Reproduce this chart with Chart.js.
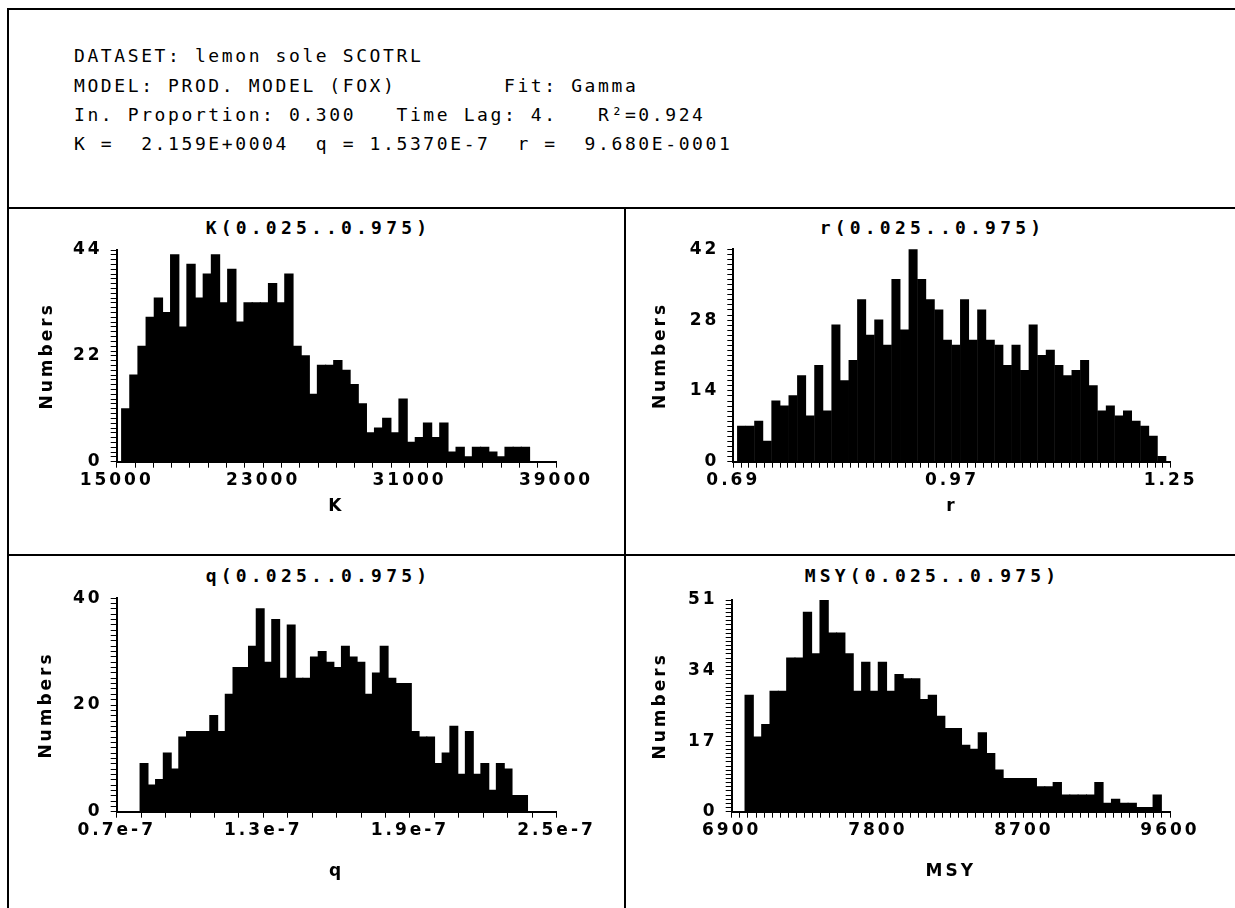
<!DOCTYPE html>
<html>
<head>
<meta charset="utf-8">
<script src="https://cdn.jsdelivr.net/npm/chart.js@4.4.1/dist/chart.umd.min.js"></script>
<style>
  body { margin: 0; background: #fff; }
  #page { position: relative; width: 1235px; height: 908px; overflow: hidden; background: #fff; }
  .rule { position: absolute; background: #000; }
  .hdr { position: absolute; left: 74px; font: 18px "DejaVu Sans Mono", monospace; letter-spacing: 2.6px; white-space: pre; line-height: 20px; color: #000; }
  .ptitle { position: absolute; font: bold 18px "DejaVu Sans Mono", monospace; letter-spacing: 4.2px; text-align: center; line-height: 20px; color: #000; }
  canvas { position: absolute; }
</style>
</head>
<body>
<div id="page">
  <div class="rule" style="left:7px;top:8px;width:1228px;height:2px"></div>
  <div class="rule" style="left:7px;top:8px;width:2px;height:900px"></div>
  <div class="rule" style="left:7px;top:207px;width:1228px;height:2px"></div>
  <div class="rule" style="left:7px;top:554px;width:1228px;height:2px"></div>
  <div class="rule" style="left:624px;top:207px;width:2px;height:701px"></div>

  <div class="hdr" style="top:46px">DATASET: lemon sole SCOTRL</div>
  <div class="hdr" style="top:76px">MODEL: PROD. MODEL (FOX)        Fit: Gamma</div>
  <div class="hdr" style="top:105px">In. Proportion: 0.300   Time Lag: 4.   R²=0.924</div>
  <div class="hdr" style="top:134px">K =  2.159E+0004  q = 1.5370E-7  r =  9.680E-0001</div>

  <div class="ptitle" style="left:11px;top:218px;width:615px">K(0.025..0.975)</div>
  <div class="ptitle" style="left:628px;top:218px;width:609px">r(0.025..0.975)</div>
  <div class="ptitle" style="left:11px;top:566px;width:615px">q(0.025..0.975)</div>
  <div class="ptitle" style="left:628px;top:566px;width:609px">MSY(0.025..0.975)</div>

  <canvas id="cK" width="616" height="345" style="left:8px;top:209px"></canvas>
  <canvas id="cR" width="609" height="345" style="left:626px;top:209px"></canvas>
  <canvas id="cQ" width="616" height="352" style="left:8px;top:556px"></canvas>
  <canvas id="cM" width="609" height="352" style="left:626px;top:556px"></canvas>
</div>
<script>
// K histogram
const kBinStart = 15273, kBinWidth = 445.6;
const kCounts = [11,18,24,30,34,31,43,28,41,34, 39,43,33,40,29,33,33,33,37,33,
                 39,24,22,14,20,20,21,19,16,12, 6,7,9,6,13,4,5,8,5,8,
                 2,3,1,3,3,2,1,3,3,3];
const kTicks = [15000, 23000, 31000, 39000];
const kTickLabels = ['15000', '23000', '31000', '39000'];
const kYTicks = [0, 22, 44];

// r histogram
const rBinStart = 0.6951, rBinWidth = 0.01098;
const rCounts = [7,7,8,4,12,11,13,17,9,19, 10,27,16,20,32,25,28,23,36,26,
                 42,36,32,30,24,23,32,24,30,24, 23,19,23,18,27,21,22,19,17,18,
                 20,15,10,11,9,10,8,7,5,1];
const rTicks = [0.69, 0.97, 1.25];
const rTickLabels = ['0.69', '0.97', '1.25'];
const rYTicks = [0, 14, 28, 42];

// q histogram (x in units of 1e-7)
const qBinStart = 0.796, qBinWidth = 0.0317;
const qCounts = [9,5,6,11,8,14,15,15,15,18, 15,22,27,27,31,38,28,36,25,35,
                 25,25,29,30,28,27,31,29,28,22, 26,31,25,24,24,15,14,14,9,11,
                 16,7,15,7,9,4,9,8,3,3];
const qTicks = [0.7, 1.3, 1.9, 2.5];
const qTickLabels = ['0.7e-7', '1.3e-7', '1.9e-7', '2.5e-7'];
const qYTicks = [0, 20, 40];

// MSY histogram
const mBinStart = 6982, mBinWidth = 51.3;
const mCounts = [28,18,21,29,29,37,37,48,38,51, 43,43,38,29,36,29,36,29,33,32,
                 32,27,28,23,20,20,16,15,19,14, 10,8,8,8,8,6,6,7,4,4,
                 4,4,7,2,3,2,2,1,1,4];
const mTicks = [6900, 7800, 8700, 9600];
const mTickLabels = ['6900', '7800', '8700', '9600'];
const mYTicks = [0, 17, 34, 51];

const tickFont = { family: 'DejaVu Sans', size: 17, weight: 'bold' };

const spacing = {
  id: 'spacing',
  beforeDraw(chart) { chart.ctx.letterSpacing = '3px'; }
};

function hist(id, p) {
  const pts = p.counts.map((c, i) => ({ x: p.start + p.width * (i + 0.5), y: c }));
  const near = (v, list, step) => list.findIndex(t => Math.abs(t - v) < step * 0.01);
  new Chart(document.getElementById(id), {
    type: 'bar',
    data: {
      datasets: [{
        data: pts,
        backgroundColor: '#000',
        borderWidth: 0,
        inflateAmount: 0.6,
        barPercentage: 1,
        categoryPercentage: 1
      }]
    },
    options: {
      responsive: false,
      animation: false,
      layout: { padding: p.pad },
      plugins: { legend: { display: false }, tooltip: { enabled: false } },
      scales: {
        x: {
          type: 'linear',
          offset: false,
          min: p.xTicks[0],
          max: p.xTicks[p.xTicks.length - 1],
          border: { display: true, color: '#000', width: 2 },
          grid: { drawOnChartArea: false, offset: false, color: '#000', tickLength: 6 },
          ticks: {
            stepSize: p.xStep,
            autoSkip: false,
            maxRotation: 0,
            padding: 3,
            color: '#000',
            font: tickFont,
            callback: v => { const i = near(v, p.xTicks, p.xStep); return i >= 0 ? p.xLabels[i] : ''; }
          },
          title: { display: true, text: p.xTitle, color: '#000', font: tickFont, padding: 0 },
          afterFit: s => { s.height = p.xH; }
        },
        y: {
          min: 0,
          max: p.yTicks[p.yTicks.length - 1],
          border: { display: true, color: '#000', width: 2 },
          grid: { drawOnChartArea: false, color: '#000', tickLength: 6 },
          ticks: {
            stepSize: 1,
            autoSkip: false,
            padding: 8,
            color: '#000',
            font: tickFont,
            callback: v => (p.yTicks.includes(v) ? String(v) : '')
          },
          title: { display: true, text: 'Numbers', color: '#000', font: tickFont, padding: 0 },
          afterFit: s => { s.width = p.yW; }
        }
      }
    },
    plugins: [spacing]
  });
}

hist('cK', { counts: kCounts, start: kBinStart, width: kBinWidth, xTicks: kTicks, xLabels: kTickLabels,
  xStep: 1000, yTicks: kYTicks, xTitle: 'K',
  pad: { left: 29, right: 68, top: 41, bottom: 37 }, yW: 79.7, xH: 55.3 });

hist('cR', { counts: rCounts, start: rBinStart, width: rBinWidth, xTicks: rTicks, xLabels: rTickLabels,
  xStep: 0.01, yTicks: rYTicks, xTitle: 'r',
  pad: { left: 24, right: 64.3, top: 40.3, bottom: 37 }, yW: 83.3, xH: 55.3 });

hist('cQ', { counts: qCounts, start: qBinStart, width: qBinWidth, xTicks: qTicks, xLabels: qTickLabels,
  xStep: 0.1, yTicks: qYTicks, xTitle: 'q',
  pad: { left: 28, right: 67.5, top: 42.3, bottom: 26 }, yW: 80.7, xH: 70.3 });

hist('cM', { counts: mCounts, start: mBinStart, width: mBinWidth, xTicks: mTicks, xLabels: mTickLabels,
  xStep: 50, yTicks: mYTicks, xTitle: 'MSY',
  pad: { left: 24, right: 65, top: 44, bottom: 26 }, yW: 81.7, xH: 70.3 });
</script>
</body>
</html>
